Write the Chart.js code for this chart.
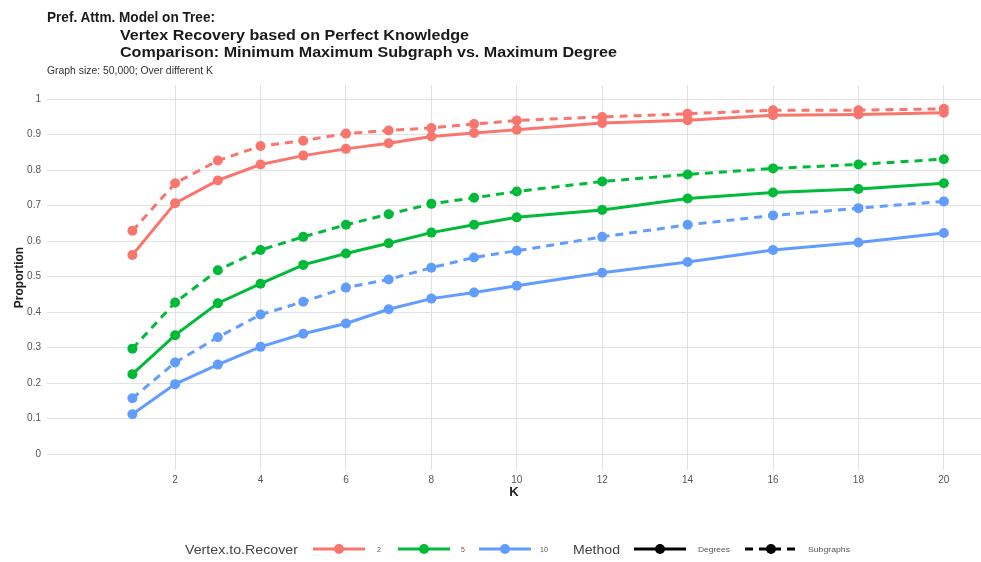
<!DOCTYPE html>
<html>
<head>
<meta charset="utf-8">
<script src="https://cdn.jsdelivr.net/npm/chart.js@4/dist/chart.umd.min.js"></script>
<style>
  html, body { margin: 0; padding: 0; background: #fff; }
  body { width: 981px; height: 562px; position: relative; overflow: hidden; font-family: "Liberation Sans", Arial, sans-serif; }
  #plot { position: absolute; left: 0; top: 0; }
  .t { position: absolute; white-space: nowrap; transform-origin: 0 50%; line-height: 1; }
  .title { font-weight: bold; font-size: 14px; color: #1a1a1a; }
  .sub { font-size: 10px; color: #333; }
  .legtitle { font-size: 13px; color: #444; }
  .leglab { font-size: 7px; color: #555; }
  svg.key { position: absolute; }
</style>
</head>
<body>
<canvas id="plot" width="981" height="562"></canvas>

<div class="t title" style="left:47px; top:10px;" data-w="168">Pref. Attm. Model on Tree:</div>
<div class="t title" style="left:120px; top:28px;" data-w="349">Vertex Recovery based on Perfect Knowledge</div>
<div class="t title" style="left:120px; top:45px;" data-w="497">Comparison: Minimum Maximum Subgraph vs. Maximum Degree</div>
<div class="t sub" style="left:47px; top:66px;" data-w="166">Graph size: 50,000; Over different K</div>

<div id="legend"></div>

<script>
// K values evaluated
const kValues = [1, 2, 3, 4, 5, 6, 7, 8, 9, 10, 12, 14, 16, 18, 20];

// Proportion of recovered vertices, Degrees method
const degrees2  = [0.561, 0.707, 0.771, 0.816, 0.841, 0.860, 0.876, 0.895, 0.905, 0.914, 0.933, 0.941, 0.955, 0.957, 0.962];
const degrees5  = [0.225, 0.335, 0.425, 0.480, 0.533, 0.565, 0.594, 0.624, 0.646, 0.667, 0.688, 0.720, 0.737, 0.747, 0.763];
const degrees10 = [0.112, 0.197, 0.252, 0.302, 0.339, 0.368, 0.408, 0.438, 0.455, 0.474, 0.511, 0.541, 0.575, 0.596, 0.623];

// Proportion of recovered vertices, Subgraphs method
const subgraphs2  = [0.629, 0.763, 0.827, 0.868, 0.883, 0.903, 0.912, 0.919, 0.930, 0.940, 0.950, 0.959, 0.969, 0.969, 0.973];
const subgraphs5  = [0.297, 0.427, 0.518, 0.575, 0.612, 0.646, 0.676, 0.705, 0.722, 0.740, 0.768, 0.788, 0.805, 0.816, 0.831];
const subgraphs10 = [0.157, 0.258, 0.329, 0.393, 0.429, 0.469, 0.492, 0.525, 0.554, 0.573, 0.612, 0.646, 0.672, 0.693, 0.712];

// Axis ticks
const xTicks = [2, 4, 6, 8, 10, 12, 14, 16, 18, 20];
const yTicks = [0, 0.1, 0.2, 0.3, 0.4, 0.5, 0.6, 0.7, 0.8, 0.9, 1];

// Legend entries
const vertexLevels = ['2', '5', '10'];
const methodLevels = ['Degrees', 'Subgraphs'];

const colors = { '2': '#F8766D', '5': '#00BA38', '10': '#619CFF' };
const dashes = { 'Degrees': [], 'Subgraphs': [8, 6] };

const seriesTable = {
  Degrees:   { '2': degrees2,   '5': degrees5,   '10': degrees10 },
  Subgraphs: { '2': subgraphs2, '5': subgraphs5, '10': subgraphs10 }
};

const datasets = [];
vertexLevels.forEach(v => {
  methodLevels.forEach(m => {
    datasets.push({
      label: v + ' ' + m,
      data: kValues.map((k, i) => ({ x: k, y: seriesTable[m][v][i] })),
      borderColor: colors[v],
      backgroundColor: colors[v],
      borderWidth: 3,
      borderDash: dashes[m],
      pointRadius: 5,
      pointBorderWidth: 0,
      pointBackgroundColor: colors[v],
      fill: false,
      tension: 0
    });
  });
});

const gridColor = '#e2e2e2';

new Chart(document.getElementById('plot'), {
  type: 'line',
  data: { datasets },
  options: {
    responsive: false,
    animation: false,
    devicePixelRatio: 1,
    layout: { autoPadding: false, padding: { top: 85, right: 0, bottom: 62, left: 0 } },
    plugins: { legend: { display: false }, tooltip: { enabled: false } },
    scales: {
      x: {
        type: 'linear',
        min: -1,
        max: 20.87,
        afterBuildTicks: s => { s.ticks = xTicks.map(v => ({ value: v })); },
        afterFit: s => { s.height = 30; },
        grid: { color: gridColor, lineWidth: 1, drawTicks: false },
        border: { display: false },
        ticks: { color: '#555', font: { size: 10, family: 'Liberation Sans' }, padding: 4, maxRotation: 0,
                 callback: v => String(v) },
        title: { display: true, text: 'K', color: '#222', font: { size: 13, weight: 'bold', family: 'Liberation Sans' },
                 padding: { top: 0, bottom: 0 } }
      },
      y: {
        type: 'linear',
        min: -0.045,
        max: 1.04,
        afterBuildTicks: s => { s.ticks = yTicks.map(v => ({ value: v })); },
        afterFit: s => { s.width = 47; },
        grid: { color: gridColor, lineWidth: 1, drawTicks: false },
        border: { display: false },
        ticks: { color: '#555', font: { size: 10, family: 'Liberation Sans' }, padding: 6,
                 callback: v => String(Math.round(v * 10) / 10) },
        title: { display: true, text: 'Proportion', color: '#222', font: { size: 12, weight: 'bold', family: 'Liberation Sans' },
                 padding: { top: 12, bottom: 0 } }
      }
    }
  }
});

// Bottom legend: colour keys for Vertex.to.Recover, line-type keys for Method
const legend = document.getElementById('legend');
const legendY = 549;
function addText(text, cls, left, width) {
  const d = document.createElement('div');
  d.className = 't ' + cls;
  d.textContent = text;
  d.style.left = left + 'px';
  d.style.top = legendY + 'px';
  d.style.transform = 'translateY(-50%)';
  if (width) d.dataset.w = width;
  legend.appendChild(d);
}
function addKey(left, color, dash) {
  const ns = 'http://www.w3.org/2000/svg';
  const svg = document.createElementNS(ns, 'svg');
  svg.setAttribute('class', 'key');
  svg.setAttribute('width', 54);
  svg.setAttribute('height', 14);
  svg.style.left = left + 'px';
  svg.style.top = (legendY - 7) + 'px';
  const ln = document.createElementNS(ns, 'line');
  ln.setAttribute('x1', 1); ln.setAttribute('x2', 53);
  ln.setAttribute('y1', 7); ln.setAttribute('y2', 7);
  ln.setAttribute('stroke', color); ln.setAttribute('stroke-width', 3);
  if (dash.length) ln.setAttribute('stroke-dasharray', dash.join(' '));
  const c = document.createElementNS(ns, 'circle');
  c.setAttribute('cx', 27); c.setAttribute('cy', 7); c.setAttribute('r', 5);
  c.setAttribute('fill', color);
  svg.appendChild(ln); svg.appendChild(c);
  legend.appendChild(svg);
}
addText('Vertex.to.Recover', 'legtitle', 185, 113);
const vKeyLeft = [312, 397, 478];
const vLabLeft = [377, 461, 540];
vertexLevels.forEach((v, i) => { addKey(vKeyLeft[i], colors[v], []); addText(v, 'leglab', vLabLeft[i]); });
addText('Method', 'legtitle', 573, 47);
const mKeyLeft = [633, 744];
const mLabLeft = [698, 808];
const mLabW = [32, 42];
methodLevels.forEach((m, i) => { addKey(mKeyLeft[i], '#000', dashes[m]); addText(m, 'leglab', mLabLeft[i], mLabW[i]); });

// Fit text widths where a target width is given
document.querySelectorAll('.t').forEach(el => {
  const w = parseFloat(el.dataset.w);
  if (!w) return;
  const nat = el.getBoundingClientRect().width;
  const base = el.style.transform || '';
  el.style.transform = base + ' scaleX(' + (w / nat) + ')';
});
</script>
</body>
</html>
